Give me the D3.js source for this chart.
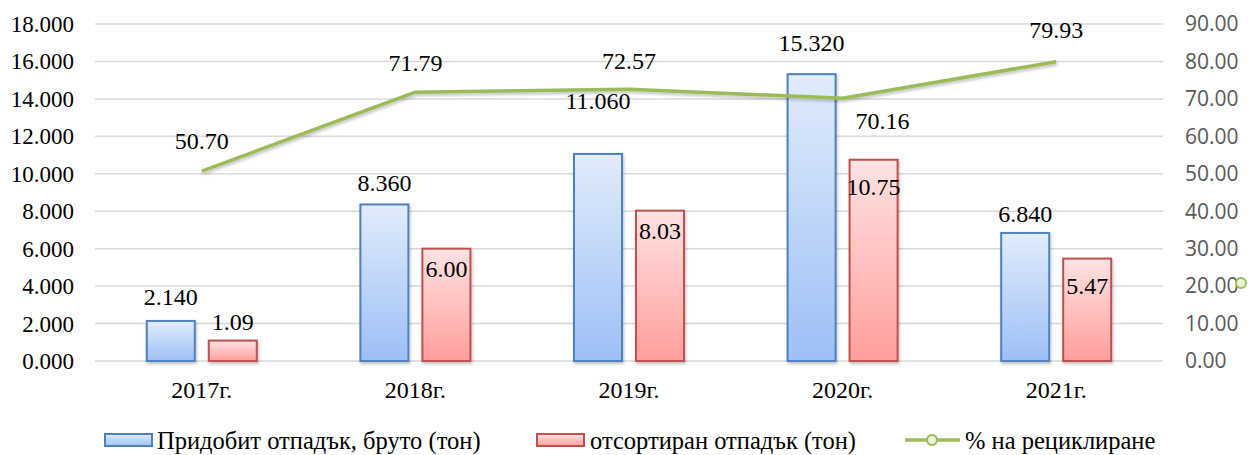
<!DOCTYPE html>
<html>
<head>
<meta charset="utf-8">
<style>
  body { margin: 0; background: #fff; }
  .grid line { stroke: #d9d9d9; stroke-width: 1.5px; }
  .lab { font-family: "Liberation Serif", "Times New Roman", serif; font-size: 24px; fill: #000; }
  .laxis text { font-size: 23px; }
  .leg { font-size: 24.5px; }
  .raxis text { font-family: "Open Sans", "Noto Sans", sans-serif; font-size: 21px; fill: #595959; }
</style>
</head>
<body>
<script src="https://d3js.org/d3.v7.min.js"></script>
<script>
var years = ["2017г.", "2018г.", "2019г.", "2020г.", "2021г."];
var gross = [2.140, 8.360, 11.060, 15.320, 6.840];
var sorted = [1.09, 6.00, 8.03, 10.75, 5.47];
var recycling = [50.70, 71.79, 72.57, 70.16, 79.93];
var leftTicks = [0, 2, 4, 6, 8, 10, 12, 14, 16, 18];
var rightTicks = [0, 10, 20, 30, 40, 50, 60, 70, 80, 90];
var legendNames = ["Придобит отпадък, бруто (тон)", "отсортиран отпадък (тон)", "% на рециклиране"];

// label nudges (px), to follow the hand-placed labels of the original
var grossLabelDy = [-24, -22, -53, -32, -19];
var sortedLabelDy = [-19, 20, 20, 27, 27];
var lineLabelDx = [0, 0, 0, 40, 0];
var lineLabelDy = [-31, -30, -29, 22, -32];

var W = 1252, H = 455;
var plotL = 95, plotR = 1163, plotT = 24, plotB = 361;

var svg = d3.select("body").append("svg").attr("width", W).attr("height", H);

var defs = svg.append("defs");
function grad(id, c1, c2) {
    var g = defs.append("linearGradient").attr("id", id)
        .attr("x1", 0).attr("y1", 0).attr("x2", 0).attr("y2", 1);
    g.append("stop").attr("offset", "0%").attr("stop-color", c1);
    g.append("stop").attr("offset", "100%").attr("stop-color", c2);
}
grad("gBlue", "#e1ecfc", "#9dbff6");
grad("gRed", "#ffe3e3", "#ff9e9c");
var f = defs.append("filter").attr("id", "sh").attr("x", "-20%").attr("y", "-20%").attr("width", "140%").attr("height", "140%");
f.append("feDropShadow").attr("dx", 1).attr("dy", 2).attr("stdDeviation", 1.5).attr("flood-color", "#000").attr("flood-opacity", 0.25);

var x = d3.scaleBand().domain(years).range([plotL, plotR]);
var yL = d3.scaleLinear().domain([0, 18]).range([plotB, plotT]);
var yR = d3.scaleLinear().domain([0, 90]).range([plotB, plotT]);

var barW = 48, gap = 14;

// grid
svg.append("g").attr("class", "grid").selectAll("line").data(leftTicks).enter().append("line")
    .attr("x1", plotL).attr("x2", plotR)
    .attr("y1", function(d) { return yL(d); }).attr("y2", function(d) { return yL(d); });

// left axis
svg.append("g").attr("class", "laxis").selectAll("text").data(leftTicks).enter().append("text")
    .attr("class", "lab").attr("text-anchor", "end")
    .attr("x", 74).attr("y", function(d) { return yL(d); }).attr("dy", "0.35em")
    .text(function(d) { return d3.format(".3f")(d); });

// right axis
svg.append("g").attr("class", "raxis").selectAll("text").data(rightTicks).enter().append("text")
    .attr("x", 1185).attr("y", function(d) { return yR(d); }).attr("dy", "0.35em")
    .text(function(d) { return d3.format(".2f")(d); });

// category labels
svg.append("g").selectAll("text").data(years).enter().append("text")
    .attr("class", "lab").attr("text-anchor", "middle")
    .attr("x", function(d) { return x(d) + x.bandwidth() / 2; }).attr("y", 390).attr("dy", "0.35em")
    .text(function(d) { return d; });

function cx(i) { return x(years[i]) + x.bandwidth() / 2; }

// bars
svg.append("g").selectAll("rect").data(gross).enter().append("rect")
    .attr("x", function(d, i) { return cx(i) - gap / 2 - barW; })
    .attr("y", function(d) { return yL(d); })
    .attr("width", barW).attr("height", function(d) { return plotB - yL(d); })
    .attr("fill", "url(#gBlue)").attr("stroke", "#4f81bd").attr("stroke-width", 2)
    .attr("filter", "url(#sh)");
svg.append("g").selectAll("rect").data(sorted).enter().append("rect")
    .attr("x", function(d, i) { return cx(i) + gap / 2; })
    .attr("y", function(d) { return yL(d); })
    .attr("width", barW).attr("height", function(d) { return plotB - yL(d); })
    .attr("fill", "url(#gRed)").attr("stroke", "#c0504d").attr("stroke-width", 2)
    .attr("filter", "url(#sh)");

// line
var line = d3.line().x(function(d, i) { return cx(i); }).y(function(d) { return yR(d); });
svg.append("path").datum(recycling).attr("d", line)
    .attr("fill", "none").attr("stroke", "#9bbb59").attr("stroke-width", 3.5)
    .attr("stroke-linejoin", "round").attr("filter", "url(#sh)");

// data labels
svg.append("g").selectAll("text").data(gross).enter().append("text")
    .attr("class", "lab").attr("text-anchor", "middle")
    .attr("x", function(d, i) { return cx(i) - gap / 2 - barW / 2; })
    .attr("y", function(d, i) { return yL(d) + grossLabelDy[i]; }).attr("dy", "0.35em")
    .text(function(d) { return d3.format(".3f")(d); });
svg.append("g").selectAll("text").data(sorted).enter().append("text")
    .attr("class", "lab").attr("text-anchor", "middle")
    .attr("x", function(d, i) { return cx(i) + gap / 2 + barW / 2; })
    .attr("y", function(d, i) { return yL(d) + sortedLabelDy[i]; }).attr("dy", "0.35em")
    .text(function(d) { return d3.format(".2f")(d); });
svg.append("g").selectAll("text").data(recycling).enter().append("text")
    .attr("class", "lab").attr("text-anchor", "middle")
    .attr("x", function(d, i) { return cx(i) + lineLabelDx[i]; })
    .attr("y", function(d, i) { return yR(d) + lineLabelDy[i]; }).attr("dy", "0.35em")
    .text(function(d) { return d3.format(".2f")(d); });

// stray marker at right edge
svg.append("circle").attr("cx", 1241).attr("cy", 283).attr("r", 5)
    .attr("fill", "#eaf3d9").attr("stroke", "#9bbb59").attr("stroke-width", 2);

// legend
var lg = svg.append("g");
var ly = 440;
lg.append("rect").attr("x", 105).attr("y", ly - 6).attr("width", 47).attr("height", 12)
    .attr("fill", "url(#gBlue)").attr("stroke", "#4f81bd").attr("stroke-width", 2);
lg.append("text").attr("class", "lab leg").attr("x", 157).attr("y", ly).attr("dy", "0.35em").text(legendNames[0]);
lg.append("rect").attr("x", 537).attr("y", ly - 6).attr("width", 47).attr("height", 12)
    .attr("fill", "url(#gRed)").attr("stroke", "#c0504d").attr("stroke-width", 2);
lg.append("text").attr("class", "lab leg").attr("x", 590).attr("y", ly).attr("dy", "0.35em").text(legendNames[1]);
lg.append("line").attr("x1", 905).attr("x2", 960).attr("y1", ly).attr("y2", ly)
    .attr("stroke", "#9bbb59").attr("stroke-width", 3.5);
lg.append("circle").attr("cx", 932).attr("cy", ly).attr("r", 5)
    .attr("fill", "#eaf3d9").attr("stroke", "#9bbb59").attr("stroke-width", 2);
lg.append("text").attr("class", "lab leg").attr("x", 965).attr("y", ly).attr("dy", "0.35em").text(legendNames[2]);
</script>
</body>
</html>
